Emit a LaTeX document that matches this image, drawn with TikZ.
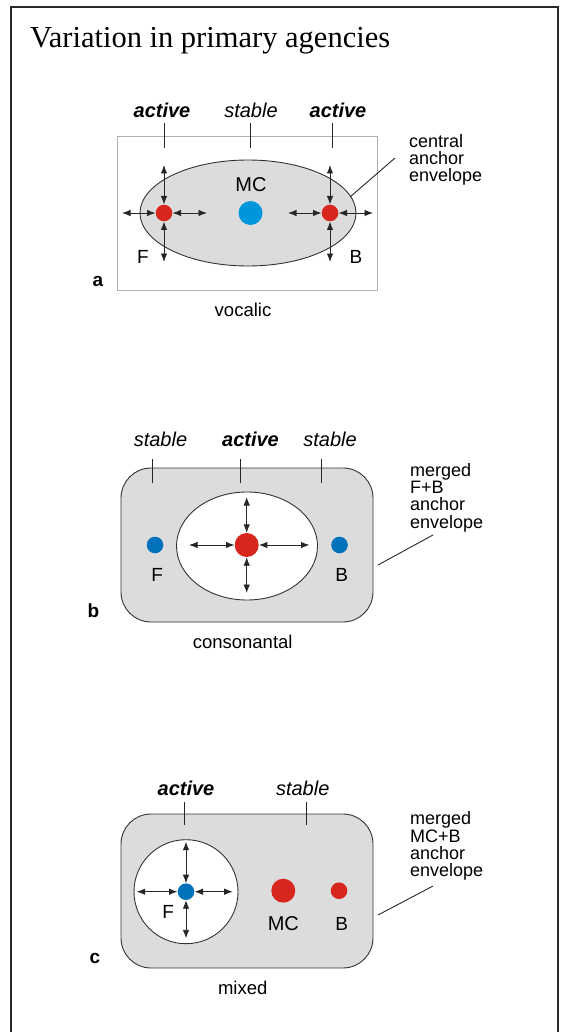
\documentclass[tikz,border=0pt]{standalone}
\usepackage{fontspec}
\setmainfont{Liberation Serif}
\newfontfamily\lsans{Liberation Sans}
\usetikzlibrary{arrows.meta}
\definecolor{dotred}{RGB}{215,38,30}
\definecolor{dotblueA}{RGB}{0,150,220}
\definecolor{dotblueB}{RGB}{0,114,188}
\definecolor{envfill}{RGB}{220,220,220}
\definecolor{framecol}{RGB}{40,40,40}
\definecolor{boxgray}{RGB}{175,175,175}
\tikzset{
  lbl/.style={font=\lsans\fontsize{19}{21}\selectfont, anchor=base, inner sep=0pt},
  biglbl/.style={font=\lsans\fontsize{20}{22}\selectfont, anchor=base, inner sep=0pt},
  actlbl/.style={font=\lsans\bfseries\itshape\fontsize{20}{22}\selectfont, anchor=base, inner sep=0pt},
  stblbl/.style={font=\lsans\itshape\fontsize{20}{22}\selectfont, anchor=base, inner sep=0pt},
  panlbl/.style={font=\lsans\bfseries\fontsize{19}{21}\selectfont, anchor=base, inner sep=0pt},
  caplbl/.style={font=\lsans\fontsize{18.5}{21}\selectfont, anchor=base, inner sep=0pt},
  notelbl/.style={font=\lsans\fontsize{18}{17.3}\selectfont, align=left, anchor=north west, inner sep=0pt},
  bigdot/.style={circle, inner sep=0pt, minimum size=24pt, fill=#1},
  smalldot/.style={circle, inner sep=0pt, minimum size=16.6pt, fill=#1},
  dblarrow/.style={{Latex[length=8.5pt,width=6.5pt]}-{Latex[length=8.5pt,width=6.5pt]}, line width=0.9pt, draw=black!85},
  tick/.style={line width=0.9pt, draw=black!85},
  leader/.style={line width=0.9pt, draw=black!85},
  envelope/.style={draw=black!80, line width=0.9pt, fill=envfill},
  inner/.style={draw=black!80, line width=0.9pt, fill=white}
}
\begin{document}
\begin{tikzpicture}[x=1pt,y=-1pt]
\useasboundingbox (0,0) rectangle (561,1032);
% frame (open at the bottom)
\draw[framecol, line width=1.5pt] (11,1032) -- (11,7) -- (558,7) -- (558,1032);
\node[font=\fontsize{30.5}{34}\selectfont, anchor=base west, inner sep=0pt] (title) at (30,48) {Variation in primary agencies};

% ---------------- panel a ----------------
\draw[boxgray, line width=1pt] (117,137) rectangle (377,290);
\draw[envelope] (248,213) ellipse [x radius=108, y radius=53];
\node[bigdot=dotblueA] (aMC) at (250.5,213) {};
\node[smalldot=dotred] (aF) at (164,213) {};
\node[smalldot=dotred] (aB) at (330,213) {};
\coordinate (aFu) at (164,165); \coordinate (aFd) at (164,262);
\coordinate (aFl) at (122,213); \coordinate (aFr) at (207,213);
\coordinate (aBu) at (330,165); \coordinate (aBd) at (330,262);
\coordinate (aBl) at (288,213); \coordinate (aBr) at (373,213);
\draw[dblarrow] (aF.north) -- (aFu);
\draw[dblarrow] (aF.south) -- (aFd);
\draw[dblarrow] (aF.west) -- (aFl);
\draw[dblarrow] (aF.east) -- (aFr);
\draw[dblarrow] (aB.north) -- (aBu);
\draw[dblarrow] (aB.south) -- (aBd);
\draw[dblarrow] (aB.west) -- (aBl);
\draw[dblarrow] (aB.east) -- (aBr);
\node[actlbl] (aact1) at (162,118) {active};
\node[stblbl] (astb) at (251,118) {stable};
\node[actlbl] (aact2) at (338,118) {active};
\coordinate (at1a) at (164,123); \coordinate (at1b) at (164,148);
\coordinate (at2a) at (250,123); \coordinate (at2b) at (250,148);
\coordinate (at3a) at (332,123); \coordinate (at3b) at (332,148);
\draw[tick] (at1a) -- (at1b);
\draw[tick] (at2a) -- (at2b);
\draw[tick] (at3a) -- (at3b);
\node[biglbl] (aMCl) at (251,191.5) {MC};
\node[lbl] (aFlab) at (143,263) {F};
\node[lbl] (aBlab) at (356,263) {B};
\node[panlbl] (apan) at (98,286) {a};
\node[caplbl] (acap) at (243,316.5) {vocalic};
\node[notelbl] (anote) at (409,134) {central\\anchor\\envelope};
\coordinate (aL1) at (395,158); \coordinate (aL2) at (350,197);
\draw[leader] (aL1) -- (aL2);

% ---------------- panel b ----------------
\draw[envelope, rounded corners=30pt] (121,468) rectangle (373,622);
\draw[inner] (247,546) ellipse [x radius=70.5, y radius=54];
\node[bigdot=dotred] (bC) at (246.7,545) {};
\node[smalldot=dotblueB] (bF) at (155,545) {};
\node[smalldot=dotblueB] (bB) at (339.5,545) {};
\coordinate (bCu) at (246.7,497); \coordinate (bCd) at (246.7,593);
\coordinate (bCl) at (189,545); \coordinate (bCr) at (309.5,545);
\draw[dblarrow] (bC.north) -- (bCu);
\draw[dblarrow] (bC.south) -- (bCd);
\draw[dblarrow] (bC.west) -- (bCl);
\draw[dblarrow] (bC.east) -- (bCr);
\node[stblbl] (bstb1) at (160.5,446.5) {stable};
\node[actlbl] (bact) at (250.5,446.5) {active};
\node[stblbl] (bstb2) at (330,446.5) {stable};
\coordinate (bt1a) at (152.7,459); \coordinate (bt1b) at (152.7,483);
\coordinate (bt2a) at (240.7,459); \coordinate (bt2b) at (240.7,483);
\coordinate (bt3a) at (321.7,459); \coordinate (bt3b) at (321.7,483);
\draw[tick] (bt1a) -- (bt1b);
\draw[tick] (bt2a) -- (bt2b);
\draw[tick] (bt3a) -- (bt3b);
\node[lbl] (bFlab) at (157.3,581) {F};
\node[lbl] (bBlab) at (341.7,581) {B};
\node[panlbl] (bpan) at (93.5,617.3) {b};
\node[caplbl] (bcap) at (242.7,648.3) {consonantal};
\node[notelbl] (bnote) at (410,463) {merged\\F+B\\anchor\\envelope};
\coordinate (bL1) at (433,535); \coordinate (bL2) at (378,565);
\draw[leader] (bL1) -- (bL2);

% ---------------- panel c ----------------
\draw[envelope, rounded corners=30pt] (121,814) rectangle (373,968);
\draw[inner] (186,891.7) circle [radius=52];
\node[smalldot=dotblueB] (cF) at (186,891.7) {};
\node[bigdot=dotred] (cMC) at (283.3,890.7) {};
\node[smalldot=dotred] (cB) at (339,890.7) {};
\coordinate (cFu) at (186,841.7); \coordinate (cFd) at (186,938.3);
\coordinate (cFl) at (136.7,891.7); \coordinate (cFr) at (232.7,891.7);
\draw[dblarrow] (cF.north) -- (cFu);
\draw[dblarrow] (cF.south) -- (cFd);
\draw[dblarrow] (cF.west) -- (cFl);
\draw[dblarrow] (cF.east) -- (cFr);
\node[actlbl] (cact) at (186,795.7) {active};
\node[stblbl] (cstb) at (302.7,795.7) {stable};
\coordinate (ct1a) at (184.3,801.7); \coordinate (ct1b) at (184.3,825);
\coordinate (ct2a) at (306.7,801.7); \coordinate (ct2b) at (306.7,825);
\draw[tick] (ct1a) -- (ct1b);
\draw[tick] (ct2a) -- (ct2b);
\node[lbl] (cFlab) at (168.3,918.3) {F};
\node[biglbl] (cMClab) at (283.3,930) {MC};
\node[lbl] (cBlab) at (341.7,930) {B};
\node[panlbl] (cpan) at (95,963.3) {c};
\node[caplbl] (ccap) at (242.7,994) {mixed};
\node[notelbl] (cnote) at (410,811.5) {merged\\MC+B\\anchor\\envelope};
\coordinate (cL1) at (433,886); \coordinate (cL2) at (378,915);
\draw[leader] (cL1) -- (cL2);
\end{tikzpicture}
\end{document}
